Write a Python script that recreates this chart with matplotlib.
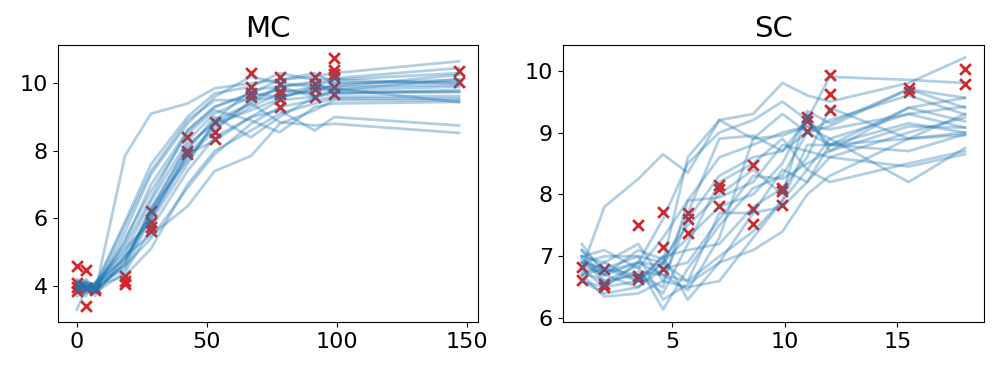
import numpy as np
import matplotlib
matplotlib.use('Agg')
import matplotlib.pyplot as plt

# MC data (observed replicates per time point)
mc_x = [0, 3.5, 7, 18.5, 28.5, 42.5, 53, 67, 78, 91.5, 99, 147]
mc_obs = [
    [4.59, 4.09, 3.98, 3.85],
    [4.47, 3.41, 3.95],
    [3.88, 3.95],
    [4.30, 4.15, 4.05],
    [6.22, 5.88, 5.75, 5.62],
    [8.40, 8.00, 7.90],
    [8.85, 8.55, 8.35],
    [10.30, 9.88, 9.70, 9.60],
    [10.20, 9.97, 9.76, 9.67, 9.53, 9.30],
    [10.18, 9.97, 9.82, 9.60],
    [10.76, 10.40, 10.27, 10.18, 9.88, 9.67],
    [10.35, 10.05],
]
# MC posterior samples
mc_samples = [
    [3.90, 4.10, 3.80, 7.85, 9.10, 9.40, 9.85, 10.00, 10.10, 10.20, 10.30, 10.65],
    [4.00, 3.90, 4.00, 5.90, 7.60, 9.00, 9.70, 9.90, 10.30, 10.10, 10.15, 10.45],
    [4.10, 4.00, 3.90, 5.60, 7.30, 8.80, 9.60, 10.20, 10.00, 9.90, 10.10, 10.30],
    [3.80, 4.20, 3.90, 5.30, 7.00, 8.60, 9.30, 9.70, 9.60, 9.80, 9.90, 10.25],
    [4.00, 3.70, 4.10, 5.00, 6.50, 8.30, 9.10, 9.60, 9.80, 9.70, 10.00, 10.10],
    [3.95, 4.00, 3.85, 4.70, 6.30, 8.10, 8.90, 9.80, 9.90, 10.00, 10.10, 10.00],
    [4.05, 3.90, 4.00, 4.80, 6.10, 7.90, 8.70, 9.30, 9.70, 9.90, 9.90, 9.95],
    [3.70, 3.80, 4.00, 4.50, 6.00, 7.80, 8.60, 9.50, 9.60, 9.80, 9.80, 9.90],
    [4.20, 4.10, 3.95, 5.10, 5.90, 7.60, 8.90, 9.40, 9.90, 10.05, 9.70, 9.80],
    [3.90, 4.00, 3.80, 4.40, 5.70, 7.40, 8.40, 9.00, 9.50, 9.60, 9.75, 9.75],
    [4.00, 3.85, 4.05, 4.60, 5.40, 6.90, 7.90, 8.80, 9.30, 9.50, 9.60, 9.62],
    [3.30, 3.90, 4.00, 4.30, 5.10, 7.00, 8.00, 8.60, 9.10, 9.40, 9.55, 9.55],
    [4.10, 4.00, 3.70, 4.90, 5.50, 6.35, 7.40, 7.85, 8.80, 9.20, 9.50, 9.50],
    [4.00, 4.15, 3.90, 5.40, 6.80, 8.50, 9.20, 8.90, 8.55, 9.30, 9.40, 9.45],
    [3.85, 3.95, 4.10, 4.80, 6.00, 7.90, 8.30, 9.00, 9.20, 8.60, 9.00, 8.75],
    [4.00, 3.80, 3.90, 4.60, 6.20, 8.20, 8.80, 9.40, 8.85, 8.75, 8.80, 8.53],
    [4.15, 4.05, 4.00, 5.80, 7.40, 8.90, 9.50, 9.50, 9.90, 9.60, 9.80, 10.12],
    [3.90, 4.10, 4.05, 5.20, 6.60, 8.60, 9.30, 9.70, 10.10, 10.30, 10.00, 10.03],
    [4.00, 3.95, 3.95, 4.90, 6.10, 8.00, 9.00, 8.40, 9.00, 9.60, 9.70, 9.74],
    [3.95, 4.05, 3.80, 4.70, 6.30, 7.70, 8.80, 9.20, 9.55, 9.90, 9.85, 9.44],
]

# SC data
sc_x = [1, 2, 3.5, 4.6, 5.7, 7.1, 8.6, 9.9, 11, 12, 15.5, 18]
sc_obs = [
    [6.82, 6.61],
    [6.80, 6.56, 6.51],
    [7.50, 6.69, 6.64],
    [7.71, 7.15, 6.79],
    [7.70, 7.60, 7.38],
    [8.15, 8.09, 7.82],
    [8.47, 7.76, 7.53],
    [8.10, 8.06, 7.83],
    [9.25, 9.19, 9.03],
    [9.93, 9.62, 9.36],
    [9.72, 9.66],
    [10.03, 9.79],
]
sc_samples = [
    [6.80, 7.80, 8.25, 8.65, 8.35, 9.20, 9.30, 9.80, 9.60, 9.50, 9.80, 10.21],
    [7.20, 6.70, 6.90, 7.60, 8.50, 9.00, 9.20, 9.50, 9.20, 9.90, 9.85, 9.80],
    [6.90, 6.80, 7.00, 6.90, 8.60, 9.20, 8.90, 9.30, 9.00, 9.10, 9.70, 9.56],
    [7.00, 7.10, 6.80, 7.30, 7.90, 8.60, 8.80, 9.00, 9.10, 8.90, 9.30, 9.42],
    [6.70, 6.90, 7.20, 6.60, 7.60, 8.30, 8.60, 8.70, 9.00, 9.20, 9.60, 9.29],
    [7.10, 6.60, 6.70, 6.50, 7.90, 7.95, 8.20, 8.80, 8.70, 8.60, 9.00, 9.24],
    [6.90, 6.70, 6.50, 6.90, 7.30, 7.80, 8.00, 8.50, 9.30, 8.70, 9.40, 9.18],
    [6.60, 6.40, 6.50, 6.80, 6.90, 7.60, 8.30, 8.25, 8.50, 8.70, 9.10, 9.08],
    [6.80, 6.50, 6.90, 6.70, 6.60, 7.00, 7.40, 7.90, 8.80, 8.80, 8.70, 8.97],
    [7.00, 6.90, 6.60, 7.00, 7.10, 7.20, 7.80, 8.10, 8.60, 9.40, 8.90, 8.96],
    [6.70, 6.35, 6.40, 6.60, 6.50, 6.60, 7.30, 7.90, 8.40, 8.20, 8.50, 8.70],
    [6.90, 7.00, 7.00, 6.30, 6.55, 6.90, 7.70, 7.80, 8.20, 8.60, 8.45, 8.65],
    [6.75, 6.60, 6.85, 6.14, 6.80, 7.50, 8.10, 8.30, 9.00, 8.80, 8.90, 9.30],
    [7.10, 6.80, 6.70, 6.40, 7.20, 8.20, 8.50, 8.90, 8.40, 8.90, 8.20, 8.75],
    [6.85, 6.70, 7.10, 6.95, 7.50, 8.00, 8.40, 8.00, 9.35, 9.15, 9.70, 9.40],
    [6.60, 6.50, 6.60, 7.00, 6.30, 6.90, 7.10, 7.40, 8.00, 8.30, 8.90, 9.00],
    [7.00, 6.55, 6.75, 6.70, 6.45, 7.30, 8.90, 8.95, 9.10, 9.05, 9.30, 9.08],
    [6.95, 6.75, 6.90, 6.85, 7.70, 8.90, 8.95, 8.70, 9.20, 8.80, 9.15, 9.00],
    [6.70, 6.80, 6.60, 6.90, 6.60, 7.70, 7.70, 8.40, 8.20, 8.80, 9.40, 9.56],
]


def draw_panel(ax, xs, obs, samples, title):
    px = []
    py = []
    for x, vals in zip(xs, obs):
        px += [x] * len(vals)
        py += vals
    ax.scatter(px, py, marker='x', color='tab:red', s=60, linewidths=2, zorder=1)
    for s in samples:
        ax.plot(xs, s, color='tab:blue', alpha=0.35, lw=2, zorder=2)
    ax.set_title(title, fontsize=21)
    ax.tick_params(labelsize=16)


fig = plt.figure(figsize=(9.96, 3.72), dpi=100)
ax1 = fig.add_axes([0.058, 0.134, 0.422, 0.745])
ax2 = fig.add_axes([0.565, 0.134, 0.423, 0.745])

draw_panel(ax1, mc_x, mc_obs, mc_samples, 'MC')
ax1.set_xticks([0, 50, 100, 150])
ax1.set_yticks([4, 6, 8, 10])

draw_panel(ax2, sc_x, sc_obs, sc_samples, 'SC')
ax2.set_xticks([5, 10, 15])
ax2.set_yticks([6, 7, 8, 9, 10])

fig.savefig('out.png', dpi=100)
